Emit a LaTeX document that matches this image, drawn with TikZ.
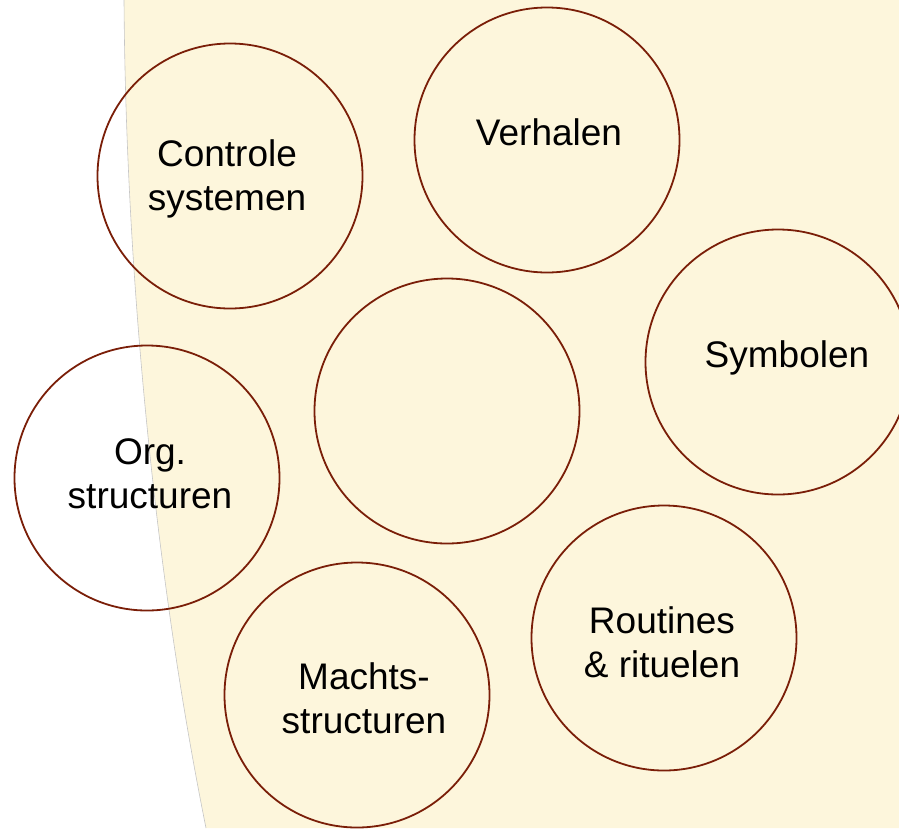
\documentclass[tikz,border=0pt]{standalone}
\usepackage{fontspec}
\setmainfont{Liberation Sans}
\usetikzlibrary{positioning}
\definecolor{cream}{HTML}{FDF6DC}
\definecolor{rim}{HTML}{7A1E08}
\tikzstyle{ring} = [draw=rim, line width=1.8pt, circle, minimum size=265pt, inner sep=0pt]
\tikzstyle{txt} = [align=center, font=\fontsize{37}{44}\selectfont, inner sep=0pt]

\begin{document}
\begin{tikzpicture}[x=1pt, y=-1pt]

\useasboundingbox (0,0) rectangle (899,828);
\fill [cream] (124,0) .. controls (126,300) and (160,600) .. (206,828) -- (899,828) -- (899,0) -- cycle;
\draw [gray!45, line width=0.6pt] (124,0) .. controls (126,300) and (160,600) .. (206,828);

\begin{scope}
\clip (0,0) rectangle (899,828);
\node [ring] (controle) at (230,176) {};
\node [ring] (verhalen) at (547,140) {};
\node [ring] (midden) at (447,411) {};
\node [ring] (symbolen) at (778,362) {};
\node [ring] (org) at (147,478) {};
\node [ring] (routines) at (664,638) {};
\node [ring] (machts) at (357,695) {};
\end{scope}

\node [txt] (tcontrole) at (227,179) {Controle\\systemen};
\node [txt] (tverhalen) at (549,132) {Verhalen};
\node [txt] (tsymbolen) at (787,358) {Symbolen};
\node [txt] (torg) at (150,474) {Org.\\structuren};
\node [txt] (troutines) at (662,642) {Routines\\\&\ rituelen};
\node [txt] (tmachts) at (364,698) {Machts-\\structuren};

\end{tikzpicture}
\end{document}
